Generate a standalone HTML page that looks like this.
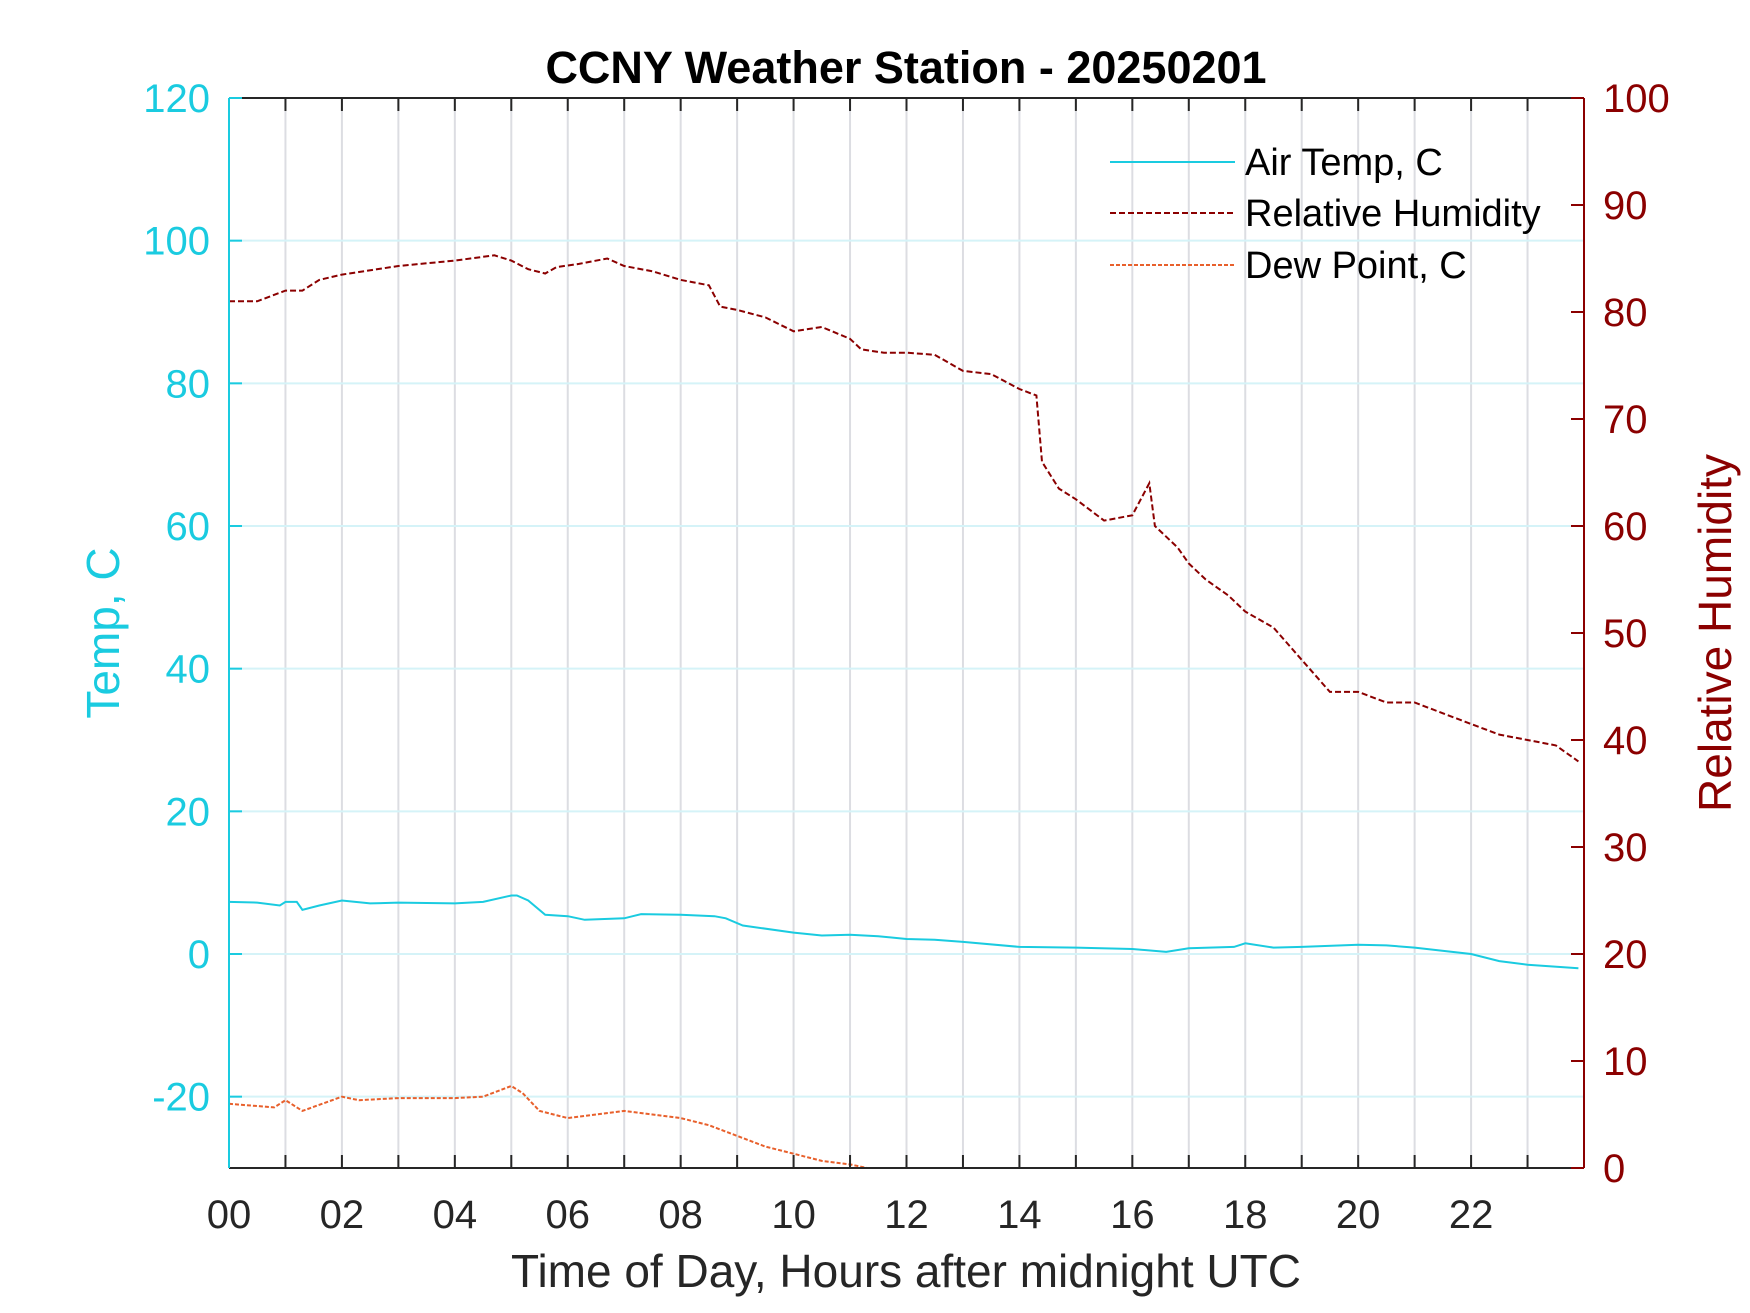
<!DOCTYPE html>
<html><head><meta charset="utf-8"><style>
html,body{margin:0;padding:0;background:#fff;}
svg{display:block;font-family:"Liberation Sans",Arial,sans-serif;}
</style></head><body>
<svg id="chart" width="1750" height="1313" viewBox="0 0 1750 1313"></svg>
<script>
const hours=[0,0.5,0.9,1.0,1.2,1.3,1.6,2,2.5,3,4,4.5,5,5.1,5.3,5.6,6,6.3,7,7.3,8,8.6,8.8,9.1,10,10.5,11,11.5,12,12.5,13,14,15,16,16.6,17,17.8,18,18.5,19,20,20.5,21,22,22.5,23,23.9];
const airTemp=[7.3,7.2,6.8,7.3,7.3,6.2,6.8,7.5,7.1,7.2,7.1,7.3,8.2,8.2,7.5,5.5,5.3,4.8,5.0,5.6,5.5,5.3,5.0,4.0,3.0,2.6,2.7,2.5,2.1,2.0,1.7,1.0,0.9,0.7,0.3,0.8,1.0,1.5,0.9,1.0,1.3,1.2,0.9,0,-1.0,-1.5,-2.0];
const dewHours=[0,0.8,1,1.3,2,2.3,3,4,4.5,5,5.2,5.5,6,7,7.5,8,8.5,9,9.5,10,10.5,11,11.3,12,14,18,23.9];
const dewPoint=[-21,-21.5,-20.5,-22,-20,-20.5,-20.2,-20.2,-20,-18.5,-19.5,-22,-23,-22,-22.5,-23,-24,-25.5,-27,-28,-29,-29.5,-30,-31,-33,-36,-40];
const rhHours=[0,0.5,1,1.3,1.6,2,3,4,4.7,5,5.3,5.6,5.8,6.2,6.7,7,7.5,8,8.5,8.7,9,9.5,10,10.5,11,11.2,11.6,12,12.5,13,13.5,14,14.3,14.4,14.7,15,15.5,16,16.3,16.4,16.8,17,17.3,17.7,18,18.5,19,19.5,20,20.5,21,21.5,22,22.5,23,23.5,23.9];
const relHum=[81,81,82,82,83,83.5,84.3,84.8,85.3,84.8,84,83.6,84.2,84.5,85,84.3,83.8,83,82.5,80.5,80.2,79.5,78.2,78.6,77.5,76.5,76.2,76.2,76,74.5,74.2,72.8,72.2,66,63.5,62.5,60.5,61,64,60,58,56.5,55,53.5,52,50.5,47.5,44.5,44.5,43.5,43.5,42.5,41.5,40.5,40,39.5,38];
const xTicks=["00","02","04","06","08","10","12","14","16","18","20","22"];
const tempTicks=[-20,0,20,40,60,80,100,120];
const rhTicks=[0,10,20,30,40,50,60,70,80,90,100];

const L=229,R=1584,T=98,B=1168;
const X=h=>L+(R-L)*h/24;
const YT=t=>T+(B-T)*(120-t)/150;
const YR=r=>T+(B-T)*(100-r)/100;
const NS="http://www.w3.org/2000/svg";
const svg=document.getElementById('chart');
function el(tag,attrs,parent){const e=document.createElementNS(NS,tag);for(const k in attrs)e.setAttribute(k,attrs[k]);(parent||svg).appendChild(e);return e;}
const CY="#1ACBE0",RH="#8B0000",DP="#E8602C";

const defs=el('defs',{});
const cp=el('clipPath',{id:'plotclip'},defs);
el('rect',{x:L,y:T,width:R-L,height:B-T},cp);

for(let h=1;h<24;h++){const g=el('line',{x1:X(h),x2:X(h),y1:T,y2:B,stroke:'#dcdde2','stroke-width':2});

}
tempTicks.forEach(t=>{if(t===120)return;const g=el('line',{x1:L,x2:R,y1:YT(t),y2:YT(t),stroke:'#d5f3f8','stroke-width':2});

});

function path(xs,ys,fx,fy,attrs,name){
 const d=xs.map((v,i)=>(i?'L':'M')+fx(v).toFixed(1)+','+fy(ys[i]).toFixed(1)).join('');
 const p=el('path',Object.assign({d:d,fill:'none','clip-path':'url(#plotclip)'},attrs));
 
 
}
path(hours,airTemp,X,YT,{stroke:CY,'stroke-width':2},'air-temp-line');
path(dewHours,dewPoint,X,YT,{stroke:DP,'stroke-width':2,'stroke-dasharray':'4 2'},'dew-point-line');
path(rhHours,relHum,X,YR,{stroke:RH,'stroke-width':2,'stroke-dasharray':'6 3'},'relative-humidity-line');

el('line',{x1:L,x2:R,y1:T,y2:T,stroke:'#262626','stroke-width':2});
el('line',{x1:L,x2:R,y1:B,y2:B,stroke:'#262626','stroke-width':2});
el('line',{x1:L,x2:L,y1:T,y2:B,stroke:CY,'stroke-width':2});
el('line',{x1:R,x2:R,y1:T,y2:B,stroke:RH,'stroke-width':2});
for(let h=1;h<24;h++){el('line',{x1:X(h),x2:X(h),y1:T,y2:T+13,stroke:'#262626','stroke-width':2});el('line',{x1:X(h),x2:X(h),y1:B,y2:B-13,stroke:'#262626','stroke-width':2});}
xTicks.forEach((s,i)=>{const t=el('text',{x:X(i*2),y:1228,'text-anchor':'middle','font-size':40,fill:'#262626'});t.textContent=s;

});
tempTicks.forEach(v=>{el('line',{x1:L,x2:L+13,y1:YT(v),y2:YT(v),stroke:CY,'stroke-width':2});const t=el('text',{x:210,y:YT(v)+14,'text-anchor':'end','font-size':40,fill:CY});t.textContent=v;

});
rhTicks.forEach(v=>{el('line',{x1:R,x2:R-13,y1:YR(v),y2:YR(v),stroke:RH,'stroke-width':2});const t=el('text',{x:1603,y:YR(v)+14,'font-size':40,fill:RH});t.textContent=v;

});

function txt(s,a,name){const t=el('text',a);t.textContent=s;return t;}
txt('CCNY Weather Station - 20250201',{x:906,y:83,'text-anchor':'middle','font-size':45,'font-weight':'bold',fill:'#000'},'chart-title');
txt('Time of Day, Hours after midnight UTC',{x:906,y:1287,'text-anchor':'middle','font-size':46,fill:'#262626'},'x-axis-title');
txt('Temp, C',{x:0,y:0,'text-anchor':'middle','font-size':46,fill:CY,transform:'translate(119,633) rotate(-90)'},'left-y-axis-title');
txt('Relative Humidity',{x:0,y:0,'text-anchor':'middle','font-size':46,fill:RH,transform:'translate(1731,633) rotate(-90)'},'right-y-axis-title');

const lg=el('g',{});
[['Air Temp, C',CY,'none',162],['Relative Humidity',RH,'6 3',213],['Dew Point, C',DP,'4 2',265]].forEach(e=>{
 el('line',{x1:1110,x2:1235,y1:e[3],y2:e[3],stroke:e[1],'stroke-width':2,'stroke-dasharray':e[2]},lg);
 const t=el('text',{x:1245,y:e[3]+13,'font-size':38,fill:'#000'},lg);t.textContent=e[0];
 
 
});
</script>
</body></html>
